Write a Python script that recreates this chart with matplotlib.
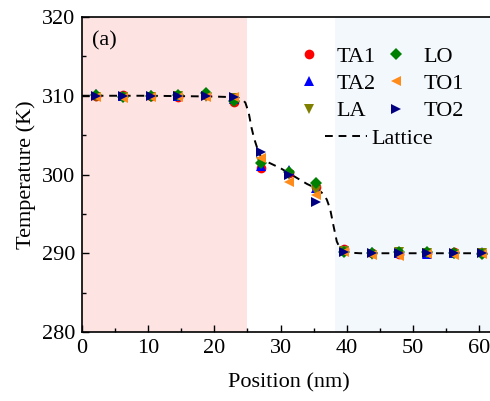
import matplotlib
matplotlib.use("Agg")
import matplotlib.pyplot as plt
from matplotlib.lines import Line2D

plt.rcParams['font.family'] = 'serif'
plt.rcParams['font.serif'] = ['Liberation Serif']
plt.rcParams['mathtext.fontset'] = 'stix'

positions = [2.08, 6.25, 10.42, 14.58, 18.75, 22.92, 27.08, 31.25, 35.42,
             39.58, 43.75, 47.92, 52.08, 56.25, 60.42]

TA1 = [310.0, 310.1, 310.0, 309.9, 310.1, 309.2, 300.8, 300.2, 298.4,
       290.6, 290.0, 289.9, 290.0, 290.1, 290.0]
TA2 = [310.2, 310.0, 310.1, 310.0, 310.2, 309.6, 301.1, 300.6, 298.3,
       290.4, 290.1, 290.0, 289.9, 290.0, 290.2]
LA = [309.9, 309.8, 309.9, 310.0, 309.9, 309.7, 301.6, 300.0, 297.9,
      290.3, 289.8, 290.1, 290.0, 289.9, 290.0]
LO = [310.1, 309.9, 310.0, 310.1, 310.3, 309.3, 301.4, 300.3, 298.9,
      290.2, 290.0, 290.1, 290.1, 290.0, 289.9]
TO1 = [309.8, 309.7, 309.8, 309.9, 309.8, 309.9, 302.1, 299.1, 297.4,
       290.1, 289.8, 289.7, 289.9, 289.8, 289.9]
TO2 = [310.0, 310.0, 310.0, 310.0, 310.0, 309.9, 302.9, 300.0, 296.5,
       290.2, 290.0, 290.0, 290.0, 290.0, 290.0]

lattice_x = [0, 10, 20, 23.5, 24.3, 24.7, 25.2, 25.6, 26.0, 26.5, 27.0, 28.0,
             30.0, 32.0, 34.0, 35.5, 36.5, 37.0, 37.5, 38.0, 38.5, 39.0, 40.0,
             42.0, 62.5]
lattice_T = [310.0, 310.0, 309.9, 309.8, 309.5, 309.1, 307.8, 306.0, 304.6,
             303.3, 302.3, 301.6, 300.8, 299.8, 298.8, 298.2, 297.5, 296.8,
             295.6, 293.5, 291.5, 290.6, 290.1, 290.0, 290.0]

series = [("TA1", TA1, 'o', '#ff0000'),
          ("TA2", TA2, '^', '#0000ff'),
          ("LA", LA, 'v', '#808000'),
          ("LO", LO, 'D', '#008000'),
          ("TO1", TO1, '<', '#ff8c1a'),
          ("TO2", TO2, '>', '#000080')]

fig = plt.figure(figsize=(4.90, 4.01), dpi=100)
ax = fig.add_axes([82/490, 69/401, 413.6/490, 315/401])

ax.axvspan(0, 25, color='#fee3e3', lw=0, zorder=0)
ax.axvspan(38.2, 62.5, color='#f3f8fd', lw=0, zorder=0)

ax.plot(lattice_x, lattice_T, color='black', lw=1.4, dashes=(4, 3), zorder=2)

handles = []
for name, vals, m, c in series:
    ms = 7 if m != 'D' else 6
    ax.plot(positions, vals, linestyle='none', marker=m, color=c,
            markersize=ms, markeredgewidth=0, zorder=3)
    handles.append(Line2D([], [], linestyle='none', marker=m, color=c,
                          markersize=ms, markeredgewidth=0, label=name))

ax.set_xlim(0, 62.5)
ax.set_ylim(280, 320)
ax.set_xticks([0, 10, 20, 30, 40, 50, 60])
ax.set_xticks([5, 15, 25, 35, 45, 55], minor=True)
ax.set_yticks([280, 290, 300, 310, 320])
ax.set_yticks([285, 295, 305, 315], minor=True)
ax.tick_params(which='both', direction='in', labelsize=16, width=1.0)
ax.tick_params(which='major', length=5, pad=5)
ax.tick_params(which='minor', length=3)
for s in ax.spines.values():
    s.set_linewidth(1.2)

ax.set_xlabel('Position (nm)', fontsize=16, labelpad=11)
ax.set_ylabel('Temperature (K)', fontsize=16, labelpad=4)

ax.text(0.025, 0.955, '(a)', transform=ax.transAxes, fontsize=16,
        ha='left', va='top')

leg1 = ax.legend(handles=handles, ncol=2, frameon=False, fontsize=16,
                 loc='upper left', bbox_to_anchor=(0.5, 0.935),
                 handlelength=1.0, handletextpad=0.75, columnspacing=0.4,
                 labelspacing=0.3, borderaxespad=0)
ax.add_artist(leg1)
lat_handle = Line2D([], [], color='black', lw=1.4, dashes=(4, 3))
leg2 = ax.legend(handles=[lat_handle], labels=['Lattice'], frameon=False,
                 fontsize=16, loc='upper left', bbox_to_anchor=(0.565, 0.675),
                 handlelength=1.9, handletextpad=0.2, borderaxespad=0)

fig.savefig('out.png', dpi=100)
